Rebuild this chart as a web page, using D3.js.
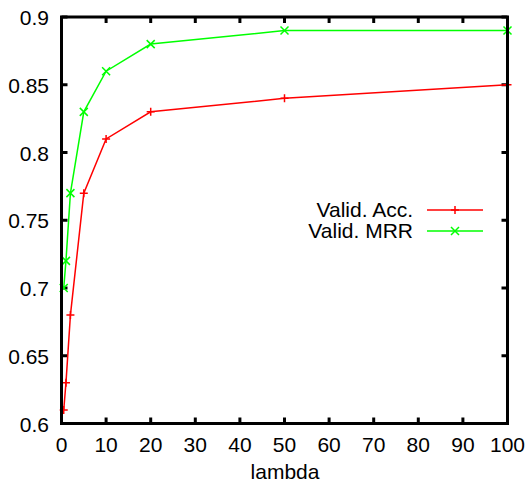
<!DOCTYPE html>
<html>
<head>
<meta charset="utf-8">
<script src="https://cdn.jsdelivr.net/npm/d3@7"></script>
<style>
  body { margin: 0; background: #fff; }
  text { font-family: "Liberation Sans", Arial, sans-serif; fill: #000; }
</style>
</head>
<body>
<svg id="chart" width="528" height="485"></svg>
<script>
// values
const lambdas = [0.5, 1, 2, 5, 10, 20, 50, 100];
const valid_acc = [0.61, 0.63, 0.68, 0.77, 0.81, 0.83, 0.84, 0.85];
const valid_mrr = [0.70, 0.72, 0.77, 0.83, 0.86, 0.88, 0.89, 0.89];
const series_names = ["Valid. Acc.", "Valid. MRR"];
const series_colors = ["#ff0000", "#00ff00"];
const x_ticks = [0, 10, 20, 30, 40, 50, 60, 70, 80, 90, 100];
const y_ticks = [0.6, 0.65, 0.7, 0.75, 0.8, 0.85, 0.9];

const svg = d3.select("#chart");
const plot_left = 61.5, plot_right = 507.5, plot_top = 17, plot_bottom = 423.5;
const x = d3.scaleLinear().domain([0, 100]).range([plot_left, plot_right]);
const y = d3.scaleLinear().domain([0.6, 0.9]).range([plot_bottom, plot_top]);
const tick_len = 6;
const font_size = 21;

// tick marks on all four sides, pointing in
const ticks = svg.append("g").attr("stroke", "#000").attr("stroke-width", 3);
x_ticks.forEach((t) => {
    ticks.append("line").attr("x1", x(t)).attr("x2", x(t)).attr("y1", plot_bottom).attr("y2", plot_bottom - tick_len);
    ticks.append("line").attr("x1", x(t)).attr("x2", x(t)).attr("y1", plot_top).attr("y2", plot_top + tick_len);
});
y_ticks.forEach((t) => {
    ticks.append("line").attr("x1", plot_left).attr("x2", plot_left + tick_len).attr("y1", y(t)).attr("y2", y(t));
    ticks.append("line").attr("x1", plot_right).attr("x2", plot_right - tick_len).attr("y1", y(t)).attr("y2", y(t));
});

// tick labels
svg.append("g").selectAll("text").data(x_ticks).join("text")
    .attr("x", (d) => x(d)).attr("y", 452)
    .attr("text-anchor", "middle").attr("font-size", font_size)
    .text((d) => d);
svg.append("g").selectAll("text").data(y_ticks).join("text")
    .attr("x", 49).attr("y", (d) => y(d) + 8)
    .attr("text-anchor", "end").attr("font-size", font_size)
    .text((d) => +d.toFixed(2));

svg.append("text").attr("x", 285).attr("y", 479)
    .attr("text-anchor", "middle").attr("font-size", font_size).text("lambda");

// data lines
const line = d3.line().x((d) => x(d[0])).y((d) => y(d[1]));
const all_series = [valid_acc, valid_mrr];

function drawMarker(g, cx, cy, kind, color) {
    const s = 4;
    const d = kind === 0
        ? `M${cx - s},${cy}H${cx + s}M${cx},${cy - s}V${cy + s}`
        : `M${cx - s},${cy - s}L${cx + s},${cy + s}M${cx - s},${cy + s}L${cx + s},${cy - s}`;
    g.append("path").attr("d", d)
        .attr("stroke", color).attr("stroke-width", 1.5).attr("fill", "none");
}

all_series.forEach((vals, i) => {
    const pts = lambdas.map((l, j) => [l, vals[j]]);
    const g = svg.append("g");
    g.append("path").attr("d", line(pts))
        .attr("stroke", series_colors[i]).attr("stroke-width", 1.5).attr("fill", "none");
    pts.forEach((p) => drawMarker(g, x(p[0]), y(p[1]), i, series_colors[i]));
});

// legend
series_names.forEach((name, i) => {
    const ly = 210 + i * 21;
    svg.append("text").attr("x", 413).attr("y", ly + 7)
        .attr("text-anchor", "end").attr("font-size", font_size).text(name);
    svg.append("line").attr("x1", 427).attr("x2", 483).attr("y1", ly).attr("y2", ly)
        .attr("stroke", series_colors[i]).attr("stroke-width", 1.5);
    drawMarker(svg, 455, ly, i, series_colors[i]);
});

// frame
svg.append("rect").attr("x", plot_left).attr("y", plot_top)
    .attr("width", plot_right - plot_left).attr("height", plot_bottom - plot_top)
    .attr("fill", "none").attr("stroke", "#000").attr("stroke-width", 3);
</script>
</body>
</html>
